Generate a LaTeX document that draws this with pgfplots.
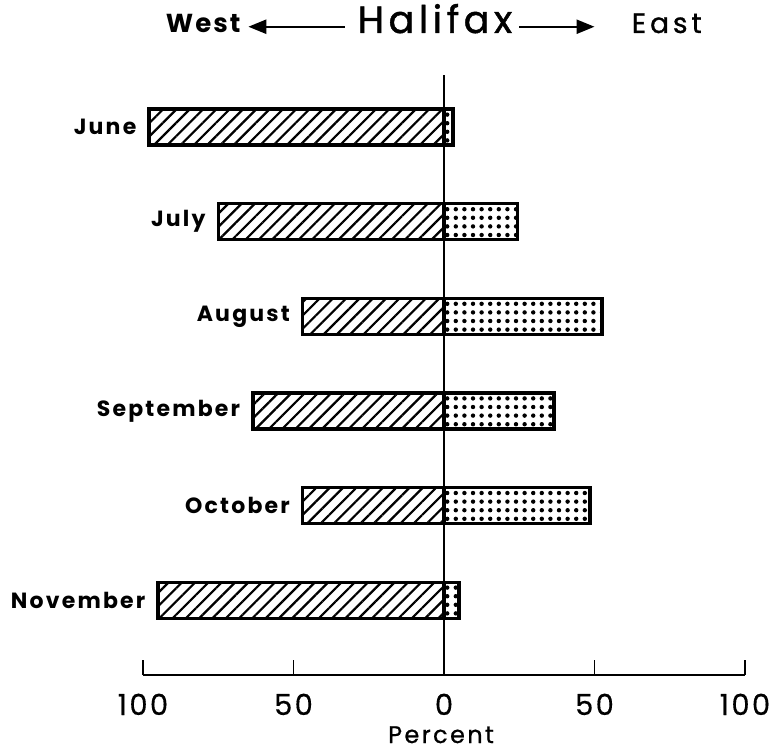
\documentclass[border=0pt]{standalone}
\usepackage{fontspec}
\setmainfont{Poppins}
\usepackage{pgfplots}
\pgfplotsset{compat=1.18}
\usepackage{pgfplotstable}
\usetikzlibrary{patterns.meta, arrows.meta}

\pgfplotstableread{
y label west east
5 June -98 3
4 July -75 24.5
3 August -47 52.5
2 September -63.5 36.5
1 October -47 48.5
0 November -95 5
}\data

\begin{document}
\begin{tikzpicture}
\begin{axis}[
  name=ax,
  scale only axis, width=301pt, height=300pt,
  xmin=-100, xmax=100, ymin=-0.79, ymax=5.55,
  axis x line*=bottom, axis y line=none,
  x axis line style={-, line width=1pt},
  xtick={-100,-50,0,50,100},
  xticklabels={100,50,0,50,100},
  tick align=inside, major tick length=7.5pt,
  tick style={black, line width=0.9pt},
  /pgf/number format/assume math mode=true,
  xticklabel style={font=\fontsize{14.5}{16}\selectfont\addfontfeatures{LetterSpace=8,FakeBold=0.4}, anchor=base, inner sep=0pt, yshift=-20pt},
  xlabel={Percent},
  xlabel style={font=\fontsize{12}{14}\selectfont\addfontfeatures{LetterSpace=10,FakeBold=0.8}, at={(axis description cs:0.495,0)}, anchor=base, inner sep=0pt, text depth=0pt, yshift=-34pt},
  clip=false,
  xbar, bar width=18pt, bar shift=0pt,
]
\draw[line width=0.9pt] (axis cs:0,-0.79) -- (axis cs:0,5.55);
\addplot[draw=black, line width=1.7pt,
  pattern={Lines[angle=45,distance=4.7pt,line width=1.1pt]},
  point meta=explicit symbolic,
  nodes near coords={\pgfplotspointmeta},
  every node near coord/.style={anchor=east, inner sep=0pt, xshift=-5.5pt, font=\fontsize{11}{13}\selectfont\bfseries\addfontfeatures{LetterSpace=10}, text=black}
] table[x=west, y=y, meta=label] {\data};
\addplot[draw=black, line width=1.7pt,
  pattern={Dots[distance=4.3pt,radius=1.1pt]}
] table[x=east, y=y] {\data};
\node[anchor=base, inner sep=0pt, font=\fontsize{13}{15}\selectfont\bfseries\addfontfeatures{LetterSpace=8}] at (axis cs:-80,5.994) {West};
\node[anchor=base, inner sep=0pt, font=\fontsize{19}{21}\selectfont\addfontfeatures{LetterSpace=12,FakeBold=1.2}] at (axis cs:-3,5.994) {Halifax};
\node[anchor=base, inner sep=0pt, font=\fontsize{14}{16}\selectfont\addfontfeatures{LetterSpace=14,FakeBold=1}] at (axis cs:74,5.994) {East};
\draw[line width=1.2pt, -{Triangle[length=9pt,width=7pt]}] (axis cs:-33,6.06) -- (axis cs:-65,6.06);
\draw[line width=1.2pt, -{Triangle[length=9pt,width=7pt]}] (axis cs:25,6.06) -- (axis cs:50,6.06);
\end{axis}
\pgfresetboundingbox
\path ([shift={(-71.5pt,-38pt)}]ax.south west) rectangle ([shift={(16.5pt,37.5pt)}]ax.north east);
\end{tikzpicture}
\end{document}
